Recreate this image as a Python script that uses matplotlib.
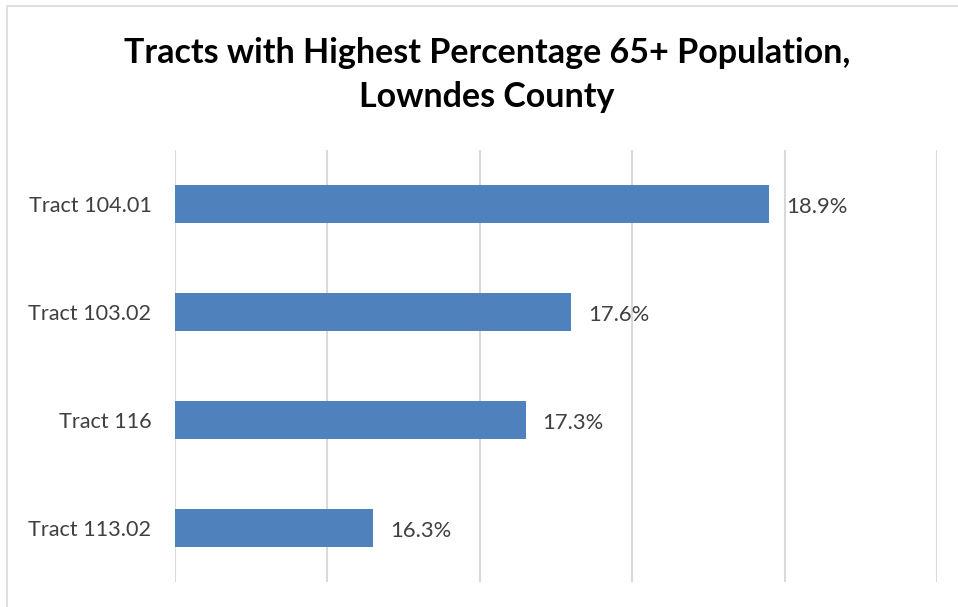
import matplotlib
matplotlib.use("Agg")
import matplotlib.pyplot as plt
from matplotlib.patches import Rectangle

categories = ["Tract 104.01", "Tract 103.02", "Tract 116", "Tract 113.02"]
values = [18.9, 17.6, 17.3, 16.3]
x_min, x_max = 15, 20
title = "Tracts with Highest Percentage 65+ Population,\nLowndes County"

plt.rcParams['font.family'] = ['Lato', 'DejaVu Sans']

fig = plt.figure(figsize=(9.58, 6.07), dpi=100)
fig.patches.append(Rectangle((7/958, -0.1), 1.2, (607-6)/607 + 0.1, transform=fig.transFigure,
                             fill=False, edgecolor='#D9D9D9', linewidth=1.2))
ax = fig.add_axes([175/958, 25/607, (937-175)/958, (582-150)/607])

ypos = list(range(len(categories)))
ax.barh(ypos, [v - x_min for v in values], left=x_min, height=0.35, color='#4F81BD', zorder=3)
for y, v in zip(ypos, values):
    ax.annotate(f"{v:.1f}%", (v, y), xytext=(12, -2), textcoords='offset points',
                va='center', ha='left', fontsize=15.8, color='#404040')

ax.set_xlim(x_min, x_max)
ax.set_ylim(len(categories) - 0.5, -0.5)
ax.set_xticks(range(x_min, x_max + 1))
ax.set_xticklabels([])
ax.set_yticks(ypos)
ax.set_yticklabels(categories, fontsize=15.6, color='#404040')
ax.tick_params(axis='both', length=0)
ax.tick_params(axis='y', pad=17)
ax.grid(axis='x', color='#D9D9D9', linewidth=1.5, zorder=0)
for s in ax.spines.values():
    s.set_visible(False)

fig.text(487/958, 1 - 75/607, title, ha='center', va='center', fontsize=24.5,
         fontweight='bold', color='black', linespacing=1.45)

fig.savefig("out.png", dpi=100)
